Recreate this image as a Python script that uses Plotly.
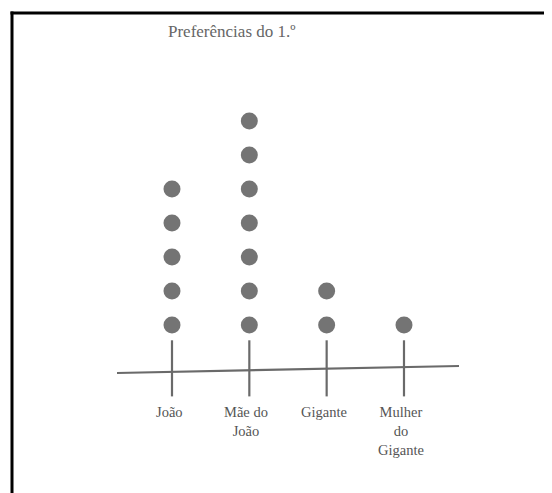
import plotly.graph_objects as go

# ---- data ----
categories = ["João", "Mãe do João", "Gigante", "Mulher do Gigante"]
label_texts = ["João", "Mãe do<br>João", "Gigante", "Mulher<br>do<br>Gigante"]
counts = [5, 7, 2, 1]
title_text = "Preferências do 1.º"

# the page body has an 8px margin, so the figure is drawn 8px in
OFF = 8
W, H = 552 - OFF, 493 - OFF
DOT_COLOR = "#747474"
LINE_COLOR = "#6a6a6a"
TEXT_COLOR = "#555555"


def px(x):
    return (x - OFF) / W


def py(y):
    return 1 - (y - OFF) / H


fig = go.Figure()

# one marker per vote, stacked in each category
for cat, n in zip(categories, counts):
    fig.add_trace(go.Scatter(
        x=[cat] * n,
        y=list(range(1, n + 1)),
        mode="markers",
        marker=dict(symbol="circle", size=17, color=DOT_COLOR,
                    line=dict(width=0)),
        showlegend=False,
        hoverinfo="skip",
    ))

shapes = []
# stems under each category
for i, cat in enumerate(categories):
    shapes.append(dict(type="line", xref="x", yref="y",
                       x0=i, x1=i, y0=0.55, y1=-1.1,
                       line=dict(color=LINE_COLOR, width=2.2)))
# hand-drawn base line (slightly tilted)
shapes.append(dict(type="line", xref="paper", yref="paper",
                   x0=px(117), y0=py(373), x1=px(459), y1=py(366),
                   line=dict(color=LINE_COLOR, width=2.2)))
# frame (top and left edges)
shapes.append(dict(type="line", xref="paper", yref="paper",
                   x0=px(10.5), y0=py(13), x1=1, y1=py(13),
                   line=dict(color="black", width=3)))
shapes.append(dict(type="line", xref="paper", yref="paper",
                   x0=px(12), y0=py(11.5), x1=px(12), y1=0,
                   line=dict(color="black", width=3)))

annotations = [dict(text=title_text, xref="paper", yref="paper",
                    x=px(166), y=py(31), xanchor="left", yanchor="middle",
                    showarrow=False,
                    font=dict(family="Liberation Serif", size=17, color="#666666"))]
for i, t in enumerate(label_texts):
    annotations.append(dict(text=t, xref="x", yref="paper",
                            x=i, y=py(402), xanchor="center", yanchor="top",
                            xshift=-3,
                            showarrow=False, align="center",
                            font=dict(family="Liberation Serif", size=14.5,
                                      color=TEXT_COLOR)))

# scales: category i at window pixel 172 + 77.33*i ; count k at window pixel 325 - 34*(k-1)
sx = 77.33
x0px = 172 - OFF
sy = 34.0
y1px = 325 - OFF
fig.update_layout(
    width=W, height=H,
    margin=dict(l=0, r=0, t=0, b=0),
    paper_bgcolor="white", plot_bgcolor="white",
    xaxis=dict(type="category", categoryorder="array", categoryarray=categories,
               range=[-x0px / sx, (W - x0px) / sx], visible=False, fixedrange=True),
    yaxis=dict(range=[1 - (H - y1px) / sy, 1 + y1px / sy], visible=False, fixedrange=True),
    shapes=shapes,
    annotations=annotations,
)

fig.write_html("out.html")
